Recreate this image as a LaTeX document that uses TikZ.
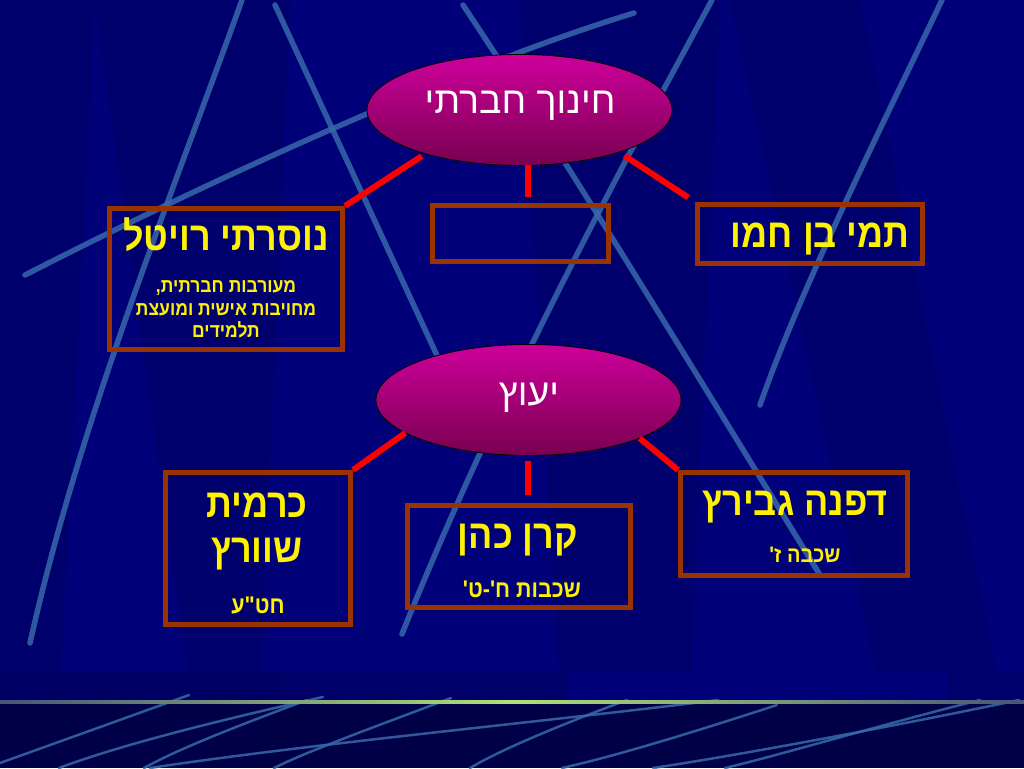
\documentclass[tikz,border=0pt]{standalone}
\usepackage{fontspec}
\TeXXeTstate=1
\newfontfamily\hebfont[Script=Hebrew]{Liberation Sans}
\newfontfamily\hebbold[Script=Hebrew]{Liberation Sans Bold}
\usetikzlibrary{shapes.geometric}
\newcommand{\heb}[1]{\scalebox{1}[1.12]{\beginR #1\endR}}
\newcommand{\hebw}[1]{\beginR #1\endR}
\definecolor{bgnavy}{RGB}{0,0,120}
\definecolor{bgdark}{RGB}{0,0,100}
\definecolor{bgbottom}{RGB}{0,0,70}
\definecolor{streak}{RGB}{55,105,170}
\definecolor{boxbrown}{RGB}{153,51,0}
\definecolor{elltop}{RGB}{206,0,155}
\definecolor{ellbot}{RGB}{120,0,80}
\definecolor{lime}{RGB}{175,225,120}
\definecolor{limeend}{RGB}{70,85,120}
\tikzset{
  streakline/.style={draw=streak, line width=5.5pt, opacity=0.85, line cap=round},
  thinstreak/.style={draw=streak, line width=2.5pt, opacity=0.85, line cap=round},
  bubble/.style={ellipse, draw=black, line width=0.8pt, top color=elltop, bottom color=ellbot, minimum width=305pt, minimum height=111pt, inner sep=0pt},
  framebox/.style={rectangle, draw=boxbrown, line width=5pt, inner sep=0pt},
  link/.style={draw=red, line width=6pt},
  nametext/.style={font=\hebbold\fontsize{36}{40}\selectfont, text=yellow, anchor=base, inner sep=0pt},
  subtext/.style={font=\hebbold\fontsize{17.5}{20}\selectfont, text=yellow, anchor=base, inner sep=0pt},
  bigsub/.style={font=\hebbold\fontsize{21.5}{24}\selectfont, text=yellow, anchor=base, inner sep=0pt},
  bubbletext/.style={font=\hebfont\fontsize{37.5}{40}\selectfont, text=white, anchor=base, inner sep=0pt}
}
\begin{document}
\begin{tikzpicture}[x=1pt,y=-1pt]
% background
\fill[bgnavy] (0,0) rectangle (1024,768);
\useasboundingbox (0,0) rectangle (1024,768);
\fill[bgdark,opacity=0.6] (0,0) -- (95,0) -- (60,690) -- (0,690) -- cycle;
\fill[bgdark,opacity=0.5] (95,0) -- (290,0) -- (260,690) -- (190,690) -- cycle;
\fill[bgdark,opacity=0.6] (520,0) -- (720,0) -- (690,690) -- (560,690) -- cycle;
\fill[bgdark,opacity=0.5] (730,0) -- (860,0) -- (1000,690) -- (880,690) -- cycle;
% bottom band
\fill[bgdark] (0,672) rectangle (281,700);
\fill[bgdark!80!bgnavy] (281,672) rectangle (568,700);
\fill[bgnavy] (568,672) rectangle (947,700);
\fill[bgdark!60!bgnavy] (947,672) rectangle (1024,700);
\fill[bgbottom] (0,700) rectangle (1024,768);
% streaks
\draw[streakline] (242,0) .. controls (170,200) and (80,420) .. (30,643);
\draw[streakline] (275,5) -- (440,362);
\draw[streakline] (25,275) .. controls (250,160) and (480,60) .. (634,13);
\draw[streakline] (712,0) .. controls (620,170) and (500,390) .. (402,634);
\draw[streakline] (463,5) .. controls (560,150) and (700,380) .. (820,575);
\draw[streakline] (942,0) .. controls (880,130) and (800,290) .. (760,405);
% bottom streaks
\draw[thinstreak] (189,695) .. controls (120,720) and (50,745) .. (0,763);
\draw[thinstreak] (323,697) .. controls (220,720) and (120,745) .. (59,768);
\draw[thinstreak] (307,700) .. controls (240,725) and (180,748) .. (144,768);
\draw[thinstreak] (451,698) .. controls (380,725) and (310,750) .. (274,768);
\draw[thinstreak] (718,700) .. controls (560,720) and (300,745) .. (150,768);
\draw[thinstreak] (627,700) .. controls (560,725) and (500,750) .. (470,768);
\draw[thinstreak] (777,705) .. controls (700,730) and (620,755) .. (562,768);
\draw[thinstreak] (980,700) .. controls (880,725) and (780,755) .. (725,768);
\draw[thinstreak] (1019,700) .. controls (900,725) and (740,755) .. (653,768);
% horizon line
\shade[left color=limeend, right color=limeend, middle color=lime] (0,700.5) rectangle (1024,703.5);

% ellipses
\node[bubble] (top) at (519.5,110) {};
\node[bubble] (mid) at (528.5,400) {};
% boxes
\node[framebox, minimum width=233pt, minimum height=141pt] (nos) at (226,279) {};
\node[framebox, minimum width=176pt, minimum height=56pt] (emp) at (520.5,233.5) {};
\node[framebox, minimum width=225pt, minimum height=59pt] (tami) at (810,234) {};
\node[framebox, minimum width=185pt, minimum height=152pt] (karm) at (258,548.5) {};
\node[framebox, minimum width=223pt, minimum height=102pt] (kern) at (519,556.5) {};
\node[framebox, minimum width=227pt, minimum height=103pt] (dafn) at (794,524) {};
% connectors
\draw[link, shorten <=4pt] (top.205) -- (nos.north east);
\draw[link, shorten <=-1pt, shorten >=6pt] ([xshift=8.5pt]top.south) -- ([xshift=7.5pt]emp.north);
\draw[link, shorten <=6pt, shorten >=8pt] (top.337) -- (tami.north west);
\draw[link] (mid.195.5) -- (karm.north east);
\draw[link, shorten <=5pt, shorten >=8pt] ([xshift=-0.5pt]mid.south) -- ([xshift=9pt]kern.north);
\draw[link] (mid.341.8) -- (dafn.north west);
% texts
\node[bubbletext] (ttop) at (520,113) {\hebw{חינוך חברתי}};
\node[bubbletext] (tmid) at (529,405) {\hebw{יעוץ}};
\node[nametext] (tnos) at (226,250) {\heb{נוסרתי רויטל}};
\node[subtext] (snos1) at (226,292) {\heb{מעורבות חברתית,}};
\node[subtext] (snos2) at (226,315) {\heb{מחויבות אישית ומועצת}};
\node[subtext] (snos3) at (226,337) {\heb{תלמידים}};
\node[nametext, anchor=base east] (ttami) at (910,247) {\heb{תמי בן חמו}};
\node[nametext] (tkarm1) at (257,517) {\heb{כרמית}};
\node[nametext] (tkarm2) at (257,562) {\heb{שוורץ}};
\node[bigsub] (skarm) at (258,613) {\heb{חט"ע}};
\node[nametext] (tkern) at (518,548) {\heb{קרן כהן}};
\node[bigsub] (skern) at (522,597) {\heb{שכבות ח'-ט'}};
\node[nametext] (tdafn) at (795,515) {\heb{דפנה גבירץ}};
\node[bigsub, font=\hebbold\fontsize{20}{22}\selectfont] (sdafn) at (805,562) {\heb{שכבה ז'}};
\end{tikzpicture}
\end{document}
